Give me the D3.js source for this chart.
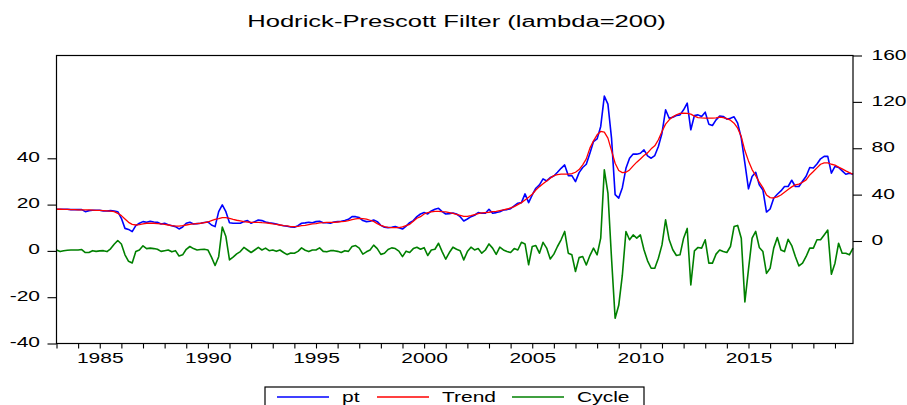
<!DOCTYPE html>
<html>
<head>
<meta charset="utf-8">
<script src="https://cdn.jsdelivr.net/npm/d3@7/dist/d3.min.js"></script>
<style>
  body { margin: 0; background: #fff; }
  svg { display: block; font-family: "Liberation Sans", Arial, sans-serif; }
</style>
</head>
<body>
<div id="hp-chart"></div>
<script>
const WIDTH = 907;
const HEIGHT = 405;
const PLOT_LEFT = 56.5;
const PLOT_RIGHT = 853;
const PLOT_TOP = 55.5;
const PLOT_BOTTOM = 343.5;
const RIGHT_ZERO_Y = 241;
const LEFT_FORTY_Y = 158.3;
// the EViews picture was exported stretched sideways, so text is widened too
const TEXT_STRETCH = 1.5;

const CONTAINER_ID = "#hp-chart";
const PT_COLOR = "#0000ff";
const TREND_COLOR = "#ff0000";
const CYCLE_COLOR = "#008000";

// bimonthly observations, 1983M01 .. 2019M11
const START_YEAR = 1983;
const STEP = 2 / 12;
const END_YEAR = 2019 + 10 / 12;

const pt = [
  27.4, 27.4, 27.4, 27.4, 27.1, 27.1, 27.1, 27.1, 25.3, 26.2, 26.5, 26.5, 26.5, 25.9, 25.9,
  26.2, 25.9, 25.3, 19.6, 10.9, 10.0, 8.1, 13.2, 15.3, 16.7, 16.1, 17.0, 16.4, 16.1, 14.7,
  15.3, 14.1, 13.2, 12.4, 10.4, 12.1, 15.3, 16.1, 14.7, 15.0, 15.3, 15.9, 16.4, 13.8, 12.4,
  25.3, 31.1, 25.3, 15.8, 15.3, 15.3, 15.3, 16.7, 17.6, 15.3, 16.7, 18.1, 17.6, 16.4, 15.8,
  15.3, 14.7, 13.8, 13.2, 12.7, 12.1, 11.8, 13.2, 15.3, 15.6, 16.1, 15.8, 16.7, 17.0, 15.8,
  15.8, 15.3, 16.4, 16.7, 17.0, 17.6, 18.7, 21.0, 21.0, 20.2, 17.6, 16.7, 17.0, 18.1,
  16.7, 13.5, 11.8, 11.5, 11.8, 12.4, 11.5, 10.3, 12.9, 15.8, 17.6, 21.0, 23.3, 24.5, 23.3,
  25.9, 27.4, 28.2, 25.3, 23.3, 23.6, 24.2, 23.3, 21.0, 17.3, 19.0, 21.0, 22.2, 24.5, 23.9,
  23.9, 27.4, 23.9, 24.5, 25.3, 26.8, 27.1, 27.9, 30.3, 32.6, 33.1, 40.6, 33.1, 39.7, 45.5,
  48.4, 53.6, 51.8, 54.7, 56.1, 59.3, 62.7, 65.6, 56.4, 56.4, 51.2, 59.0, 63.4, 66.2, 75.7,
  85.8, 88.1, 98.8, 125.0, 118.0, 88.7, 40.0, 37.0, 46.0, 62.7, 71.4, 75.1, 74.9, 75.7, 78.6,
  73.4, 71.4, 73.7, 81.5, 93.0, 113.2, 105.9, 106.8, 108.3, 108.8, 113.2, 118.9, 95.9, 108.3,
  108.8, 107.4, 111.1, 100.8, 99.6, 104.5, 107.7, 107.4, 105.1, 105.9, 107.1, 101.6, 88.7, 67.1, 45.0,
  55.6, 59.3, 48.4, 44.0, 25.0, 27.6, 36.9, 40.3, 43.2, 47.0, 47.0, 52.4, 47.0, 47.0, 51.5,
  55.8, 63.4, 62.9, 66.4, 70.9, 73.0, 73.0, 58.5, 64.3, 63.4, 60.5, 57.6, 58.5, 57.6
];

const trend = [
  27.4, 27.4, 27.3, 27.2, 27.1, 27.0, 26.9, 26.9, 26.8, 26.8, 26.7, 26.5, 26.4, 26.2, 26.0,
  25.7, 25.3, 23.9, 21.9, 19.0, 16.1, 14.4, 13.8, 14.1, 14.7, 15.3, 15.3, 15.3, 15.0, 14.7,
  14.4, 13.8, 13.2, 12.9, 12.9, 13.2, 13.8, 14.4, 14.7, 15.0, 15.3, 15.9, 16.4, 17.6, 18.7,
  19.3, 20.2, 20.2, 19.6, 18.7, 17.9, 17.3, 16.7, 16.4, 16.1, 16.1, 16.1, 15.8, 15.6, 15.3,
  14.7, 14.4, 13.8, 13.2, 13.0, 12.4, 12.4, 12.7, 13.2, 13.5, 14.1, 14.7, 15.0, 15.6, 15.8,
  16.1, 16.1, 16.1, 16.4, 16.7, 17.0, 17.6, 18.4, 19.0, 19.6, 19.3, 18.9, 17.9, 16.9,
  15.0, 13.5, 12.4, 11.8, 11.5, 11.5, 11.5, 12.1, 13.3, 14.4, 17.0, 19.6, 21.0, 23.3, 24.5,
  25.1, 25.6, 25.6, 25.3, 25.1, 24.5, 23.9, 23.0, 22.2, 21.3, 21.3, 21.9, 22.8, 23.6, 24.2,
  24.5, 24.8, 25.3, 25.6, 26.2, 26.8, 27.6, 28.5, 29.7, 31.4, 33.1, 35.4, 37.7, 40.3, 44.0,
  46.9, 49.3, 51.8, 54.1, 56.4, 57.3, 57.6, 57.6, 57.6, 58.2, 59.3, 61.6, 65.7, 70.8, 80.1,
  86.4, 91.6, 94.5, 93.9, 88.7, 78.0, 67.1, 60.8, 59.0, 59.3, 61.3, 64.8, 68.0, 70.8, 73.7,
  76.0, 79.5, 82.1, 87.3, 94.5, 100.8, 104.5, 107.1, 108.9, 110.1, 110.3, 110.1, 109.4, 107.7,
  106.5, 106.2, 106.0, 106.0, 106.0, 106.2, 106.8, 106.5, 105.6, 104.2, 101.6, 97.3, 90.1, 78.0, 69.1,
  61.6, 56.4, 50.7, 46.1, 39.7, 37.4, 37.1, 38.0, 39.7, 42.0, 44.4, 46.7, 48.4, 49.0, 50.7,
  52.7, 57.0, 59.9, 63.1, 66.2, 67.4, 67.4, 66.2, 65.4, 63.7, 62.2, 60.5, 59.0, 57.6
];

const cycle = [
  0.4, -0.3, 0.1, 0.3, 0.4, 0.4, 0.4, 0.6, -0.7, -0.7, 0.1, -0.2, 0.0, 0.1, -0.3,
  0.9, 2.9, 4.5, 3.0, -1.7, -4.5, -5.2, -0.3, 0.4, 2.2, 1.0, 1.2, 1.0, 0.7, -0.2,
  0.1, 0.4, -0.4, 0.1, -2.2, -1.7, 0.7, 1.9, 1.0, 0.4, 0.6, 0.7, 0.4, -2.7, -6.3,
  -2.5, 10.3, 6.2, -3.9, -2.7, -1.3, -0.3, 1.5, 0.4, -0.7, 0.4, 1.5, 0.4, 1.2, 0.1,
  0.4, -0.2, 0.4, -0.7, -1.6, -0.9, -1.0, -0.2, 1.3, 0.3, -0.3, 0.4, 0.4, 1.3, -0.2,
  -0.4, 0.1, 0.1, -0.2, -0.7, 0.1, -0.2, 1.9, 2.3, 1.2, -1.4, -0.4, 0.4, 2.5,
  1.0, -1.5, -1.0, 0.6, 1.3, 1.0, -0.1, -2.5, -0.1, -0.7, 1.0, 1.6, 0.7, 1.4, -2.0,
  0.4, 0.7, 3.3, -0.3, -3.6, -0.7, 1.6, 0.7, 0.1, -3.9, -0.3, 1.6, 0.4, 1.0, -1.0,
  0.4, 3.0, 1.2, -1.5, 1.6, 0.4, -0.3, -0.7, 1.0, 0.4, 3.7, 3.0, -6.0, 1.9, 2.3,
  -1.0, 3.7, 1.2, -3.5, -1.4, 1.9, 4.8, 8.4, -1.0, -1.7, -8.9, -2.9, -2.4, -6.1, -2.0,
  1.2, -1.7, 5.5, 35.0, 25.0, -3.2, -29.1, -23.5, -10.5, 8.4, 4.8, 6.9, 5.5, 6.9, 0.5,
  -4.3, -7.5, -7.5, -3.2, 2.6, 13.4, 4.8, 0.5, -2.0, -1.7, 5.5, 9.7, -14.7, 0.0,
  1.5, 1.2, 4.8, -5.3, -5.3, -1.4, 0.4, -0.3, -0.7, 1.9, 10.5, 11.0, 5.5, -22.0, -8.0,
  5.5, 8.4, 1.5, -0.3, -9.7, -7.5, 1.2, 5.8, 0.4, -0.3, 5.0, 2.3, -2.4, -6.5, -5.3,
  -2.4, 1.2, 1.2, 4.8, 4.8, 6.9, 9.0, -10.1, -5.3, 3.3, -1.0, -1.0, -1.7, 1.2
];

const yearTicks = d3.range(1983, 2020);
const yearLabels = [1985, 1990, 1995, 2000, 2005, 2010, 2015];
const leftTicks = [-40, -20, 0, 20, 40];
const rightTicks = [0, 40, 80, 120, 160];
const seriesNames = ["pt", "Trend", "Cycle"];
const TITLE = "Hodrick-Prescott Filter (lambda=200)";

const svg = d3.select(CONTAINER_ID)
  .append("svg")
  .attr("width", WIDTH)
  .attr("height", HEIGHT);

const x = d3.scaleLinear().domain([START_YEAR, END_YEAR]).range([PLOT_LEFT, PLOT_RIGHT]);
const yRight = d3.scaleLinear().domain([0, 160]).range([RIGHT_ZERO_Y, PLOT_TOP]);
const yLeft = d3.scaleLinear().domain([-40, 40]).range([PLOT_BOTTOM, LEFT_FORTY_Y]);

const dateOf = i => START_YEAR + i * STEP;
// plain hyphen for negatives, like the original
const plain = d => String(d);

function stretch(sel, dx, dy) {
  sel.attr("x", 0).attr("y", 0)
    .attr("transform", `translate(${dx},${dy}) scale(${TEXT_STRETCH},1)`);
}

// title
svg.append("text")
  .attr("font-size", 16)
  .attr("text-anchor", "middle")
  .attr("fill", "#000")
  .text(TITLE)
  .attr("transform", `translate(456.5,27) scale(1.6,1)`);

// series: cycle first, trend last so red sits on blue
function drawSeries(values, yScale, color, width) {
  svg.append("path")
    .datum(values)
    .attr("fill", "none")
    .style("stroke", color)
    .attr("stroke-width", width)
    .attr("stroke-linejoin", "round")
    .attr("d", d3.line().x((d, i) => x(dateOf(i))).y(d => yScale(d)));
}
drawSeries(cycle, yLeft, CYCLE_COLOR, 1.6);
drawSeries(pt, yRight, PT_COLOR, 1.6);
drawSeries(trend, yRight, TREND_COLOR, 1.3);

// frame
svg.append("rect")
  .attr("x", PLOT_LEFT).attr("y", PLOT_TOP)
  .attr("width", PLOT_RIGHT - PLOT_LEFT)
  .attr("height", PLOT_BOTTOM - PLOT_TOP)
  .attr("fill", "none")
  .attr("stroke", "#000")
  .attr("stroke-width", 1.2);

// axes
const leftAxis = svg.append("g")
  .attr("transform", `translate(${PLOT_LEFT},0)`)
  .call(d3.axisLeft(yLeft).tickValues(leftTicks).tickSize(9).tickFormat(plain));
leftAxis.selectAll("text").attr("text-anchor", "end").attr("dy", "0.22em")
  .call(stretch, -16.5, 0);

const rightAxis = svg.append("g")
  .attr("transform", `translate(${PLOT_RIGHT},0)`)
  .call(d3.axisRight(yRight).tickValues(rightTicks).tickSize(9).tickFormat(plain));
rightAxis.selectAll("text").attr("text-anchor", "start").attr("dy", "0.25em")
  .call(stretch, 18.5, 0);

const bottomAxis = svg.append("g")
  .attr("transform", `translate(0,${PLOT_BOTTOM})`)
  .call(d3.axisBottom(x).tickValues(yearTicks).tickSize(5)
    .tickFormat(d => yearLabels.includes(d) ? String(d) : ""));
bottomAxis.selectAll("text").attr("text-anchor", "middle").attr("dy", 0)
  .call(stretch, 0, 19.5);

svg.selectAll(".domain").remove();
svg.selectAll(".tick line").attr("stroke", "#000").attr("stroke-width", 1.1);
svg.selectAll(".tick text").attr("font-size", 14).attr("fill", "#000")
  .attr("font-family", '"Liberation Sans", Arial, sans-serif');

// legend
const legend = svg.append("g");
legend.append("rect")
  .attr("x", 265).attr("y", 387)
  .attr("width", 379).attr("height", 40)
  .attr("fill", "#fff")
  .attr("stroke", "#000")
  .attr("stroke-width", 1.2);

const legendColors = [PT_COLOR, TREND_COLOR, CYCLE_COLOR];
const legendLineX = [277, 377, 512];
seriesNames.forEach((name, i) => {
  legend.append("line")
    .attr("x1", legendLineX[i]).attr("x2", legendLineX[i] + 52)
    .attr("y1", 397).attr("y2", 397)
    .style("stroke", legendColors[i])
    .style("stroke-width", 1.5);
  legend.append("text")
    .attr("font-size", 14)
    .attr("fill", "#000")
    .text(name)
    .attr("transform", `translate(${legendLineX[i] + 65},402) scale(${TEXT_STRETCH},1)`);
});
</script>
</body>
</html>
